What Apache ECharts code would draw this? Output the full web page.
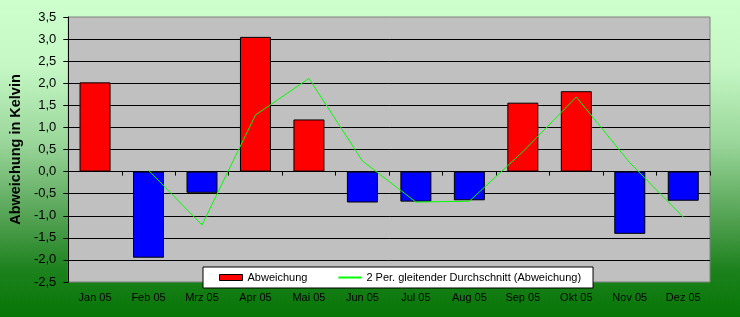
<!DOCTYPE html>
<html>
<head>
<meta charset="utf-8">
<script src="https://cdn.jsdelivr.net/npm/echarts@6/dist/echarts.min.js"></script>
<style>html,body{margin:0;padding:0;}#c{width:740px;height:317px;}</style>
</head>
<body>
<div id="c"></div>
<script>
const categories = ['Jan 05','Feb 05','Mrz 05','Apr 05','Mai 05','Jun 05','Jul 05','Aug 05','Sep 05','Okt 05','Nov 05','Dez 05'];
const abweichung = [2.02, -1.95, -0.48, 3.05, 1.18, -0.70, -0.68, -0.65, 1.56, 1.82, -1.41, -0.66];
const gleitend = [null, 0.03, -1.21, 1.28, 2.11, 0.24, -0.69, -0.67, 0.45, 1.69, 0.20, -1.03];
const yTicks = { min: -2.5, max: 3.5, step: 0.5 };
const seriesNames = ['Abweichung', '2 Per. gleitender Durchschnitt (Abweichung)'];

const font = 'Liberation Sans, Arial, sans-serif';
const chart = echarts.init(document.getElementById('c'), null, {renderer: 'canvas'});
chart.setOption({
  backgroundColor: {
    type: 'linear', x: 0, y: 0, x2: 0, y2: 1,
    colorStops: [
      {offset: 0, color: '#ccffcc'},
      {offset: 0.2, color: '#c6f8c6'},
      {offset: 0.45, color: '#9ad69a'},
      {offset: 0.7, color: '#4f9f4f'},
      {offset: 0.85, color: '#1d821d'},
      {offset: 1, color: '#067606'}
    ]
  },
  animation: false,
  textStyle: {fontFamily: font},
  grid: {
    left: 66, right: 30, top: 17, bottom: 35,
    show: true, backgroundColor: '#c0c0c0', borderColor: '#808080', borderWidth: 1
  },
  legend: {
    left: 203, top: 267,
    backgroundColor: '#ffffff', borderColor: '#000000', borderWidth: 1,
    padding: [5, 12, 5, 16], itemGap: 31,
    itemWidth: 23, itemHeight: 6, symbolKeepAspect: true,
    textStyle: {fontFamily: font, fontSize: 11, color: '#000'},
    data: [
      {name: seriesNames[0], icon: 'rect', itemStyle: {color: '#ff0000', borderColor: '#000', borderWidth: 1}},
      {name: seriesNames[1], icon: 'path://M0,0L23,0L23,2L0,2Z', itemStyle: {color: '#00ff00', borderWidth: 0}}
    ]
  },
  xAxis: [
    {
      type: 'category', data: categories, position: 'bottom',
      axisLine: {onZero: true, lineStyle: {color: '#000', width: 1}},
      axisTick: {show: true, inside: false, length: 4, lineStyle: {color: '#000'}},
      axisLabel: {show: false},
      splitLine: {show: false}
    },
    {
      type: 'category', data: categories, position: 'bottom',
      axisLine: {show: false, onZero: false},
      axisTick: {show: false},
      axisLabel: {show: true, fontFamily: font, fontSize: 11, color: '#000', margin: 10},
      splitLine: {show: false}
    }
  ],
  yAxis: {
    type: 'value', min: yTicks.min, max: yTicks.max, interval: yTicks.step,
    name: 'Abweichung in Kelvin', nameLocation: 'middle', nameGap: 43, nameRotate: 90,
    nameTextStyle: {fontFamily: font, fontSize: 14.5, fontWeight: 'bold', color: '#000'},
    axisLine: {show: true, lineStyle: {color: '#000', width: 1}},
    axisTick: {show: true, length: 5, lineStyle: {color: '#000'}},
    axisLabel: {
      fontFamily: font, fontSize: 13, color: '#000', margin: 12,
      formatter: v => v.toFixed(1).replace('.', ',')
    },
    splitLine: {show: true, showMinLine: false, showMaxLine: false, lineStyle: {color: '#000', width: 1}}
  },
  series: [
    {
      name: seriesNames[0], type: 'bar', xAxisIndex: 0, data: abweichung,
      barWidth: 31,
      itemStyle: {
        color: p => p.value >= 0 ? '#ff0000' : '#0000ff',
        borderColor: '#000', borderWidth: 1
      }
    },
    {
      name: seriesNames[1], type: 'line', xAxisIndex: 0, data: gleitend,
      symbol: 'none', connectNulls: false,
      lineStyle: {color: '#00ff00', width: 1},
      itemStyle: {color: '#00ff00'}
    }
  ]
});
</script>
</body>
</html>
